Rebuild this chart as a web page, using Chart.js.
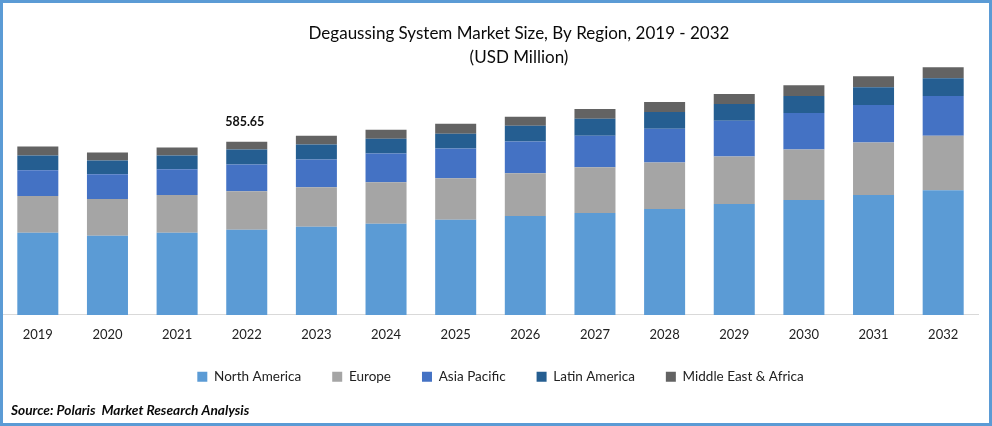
<!DOCTYPE html>
<html><head><meta charset="utf-8">
<script src="https://cdn.jsdelivr.net/npm/chart.js@4"></script>
<style>
html,body{margin:0;padding:0;background:#fff;overflow:hidden}
#wrap{position:relative;width:992px;height:426px}
#frame{position:absolute;left:0;top:0;width:992px;height:426px;box-sizing:border-box;border:3px solid #5b9bd5;pointer-events:none}
canvas{position:absolute;left:0;top:0}
</style></head><body>
<div id="wrap"><canvas id="c" width="992" height="426"></canvas><div id="frame"></div></div>
<script>
const categories=['2019','2020','2021','2022','2023','2024','2025','2026','2027','2028','2029','2030','2031','2032'];
const northAmerica=[277.8,267.8,277.8,287.8,297.9,307.9,321.3,334.7,344.7,358.1,374.9,388.3,405,421.7];
const europe=[123.8,123.8,127.2,130.5,133.9,140.6,140.6,143.9,154,157.3,160.7,170.7,177.4,184.1];
const asiaPacific=[87,83.7,87,90.4,93.7,97.1,100.4,107.1,107.1,113.8,120.5,123.8,127.2,133.9];
const latinAmerica=[50.2,46.9,46.9,50.2,50.2,50.2,50.2,53.6,56.9,56.9,56.9,56.9,60.2,60.2];
const middleEast=[30.1,26.8,26.8,26.75,30.1,30.1,33.5,30.1,33.5,33.5,33.5,36.8,36.8,36.8];
const annotatedYear='2022';
const annotatedLabel='585.65';
const sourceText='Source: Polaris  Market Research Analysis';
const FONT='Lato, "Noto Sans", sans-serif';
const labelPlugin={id:'annot',
 afterLayout(ch){
  ch.titleBlock.left=61;ch.titleBlock.right=977;
  ch.legend.left+=20;
  const sub=ch.boxes.find(b=>b.options&&b.options.text===sourceText);
  if(sub)sub.left=11;
 },
 afterDatasetsDraw(ch){
  const {ctx,scales:{x,y}}=ch;const i=categories.indexOf(annotatedYear);
  const t=ch.data.datasets.reduce((s,d)=>s+d.data[i],0);
  ctx.save();ctx.font='bold 12.5px '+FONT;ctx.fillStyle='#111';ctx.textAlign='center';ctx.textBaseline='bottom';
  ctx.fillText(annotatedLabel,x.getPixelForValue(i)-2,y.getPixelForValue(t)-13);ctx.restore();}};
const mk=(label,data,c)=>({label,data,backgroundColor:c,borderWidth:0,barPercentage:0.589,categoryPercentage:1,stack:'s'});
new Chart(document.getElementById('c'),{type:'bar',
 data:{labels:categories,datasets:[
  mk('North America',northAmerica,'#5b9bd5'),
  mk('Europe',europe,'#a5a5a5'),
  mk('Asia Pacific',asiaPacific,'#4472c4'),
  mk('Latin America',latinAmerica,'#255e91'),
  mk('Middle East & Africa',middleEast,'#636363')]},
 plugins:[labelPlugin],
 options:{responsive:false,animation:false,events:[],
  layout:{padding:{left:3,right:14,top:0,bottom:0}},
  plugins:{tooltip:{enabled:false},
   title:{display:true,text:['Degaussing System Market Size, By Region, 2019 - 2032','(USD Million)'],color:'#0a0a0a',
     font:{family:FONT,size:17,weight:'normal',lineHeight:1.4},padding:{top:22,bottom:-21}},
   legend:{position:'bottom',labels:{boxWidth:10,boxHeight:10,padding:31,color:'#222',font:{family:FONT,size:13.5}}},
   subtitle:{display:true,position:'bottom',align:'start',text:sourceText,color:'#0a0a0a',
     font:{family:FONT,size:13.7,weight:'bold',style:'italic'},padding:{top:9,bottom:7}}},
  scales:{
   x:{stacked:true,grid:{display:false,drawTicks:false},border:{display:true,color:'#d9d9d9',width:1},
      ticks:{color:'#222',padding:12,font:{family:FONT,size:13},maxRotation:0},
      afterFit(s){s.height-=15.5;}},
   y:{stacked:true,display:false,min:0,max:900}}}});
</script></body></html>
